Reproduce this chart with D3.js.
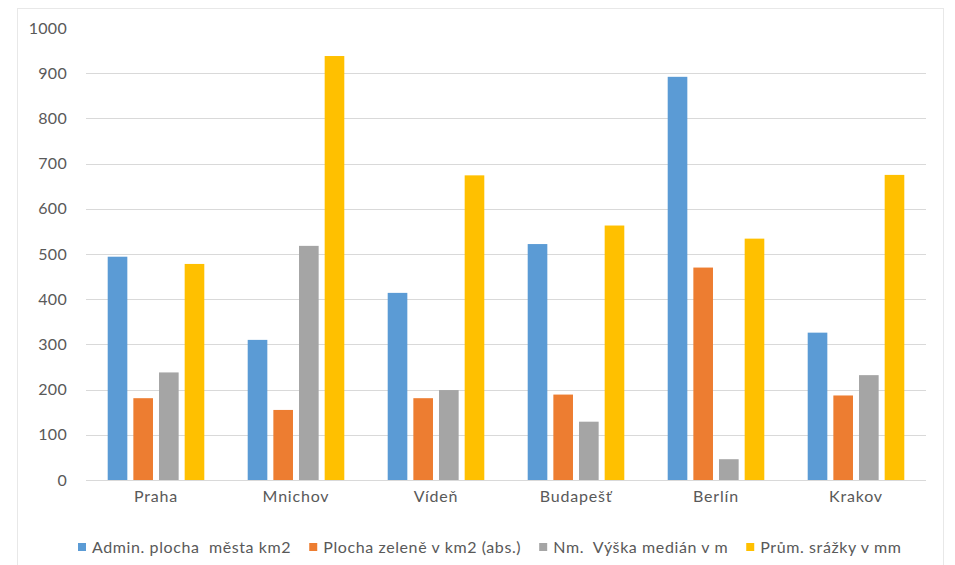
<!DOCTYPE html>
<html>
<head>
<meta charset="utf-8">
<script src="https://cdn.jsdelivr.net/npm/d3@7"></script>
<style>
  body { margin: 0; background: #fff; }
  svg text { font-family: Lato, "Open Sans", sans-serif; fill: #595959; white-space: pre; }
</style>
</head>
<body>
<svg id="chart" width="955" height="565"></svg>
<script>
"use strict";

// cities on the x axis
let cities = ["Praha", "Mnichov", "Vídeň", "Budapešť", "Berlín", "Krakov"];

let seriesNames = [
  "Admin. plocha  města km2",
  "Plocha zeleně v km2 (abs.)",
  "Nm.  Výška medián v m",
  "Prům. srážky v mm"
];
let seriesColors = ["#5B9BD5", "#ED7D31", "#A5A5A5", "#FFC000"];

// values per series, same order as cities
let adminArea = [494, 310, 414, 522, 892, 326];
let greenArea = [181, 155, 181, 189, 470, 187];
let medianHeight = [238, 518, 199, 129, 46, 232];
let rainfall = [478, 938, 674, 563, 534, 675];

let yTicks = [0, 100, 200, 300, 400, 500, 600, 700, 800, 900, 1000];

let allSeries = [adminArea, greenArea, medianHeight, rainfall];

let svg = d3.select("#chart");

// faint outer frame
svg.append("rect")
  .attr("x", 17.5).attr("y", 8.5)
  .attr("width", 926).attr("height", 560)
  .attr("fill", "none")
  .attr("stroke", "#e8e8e8");

let plotLeft = 86, plotRight = 926, plotTop = 28, plotBottom = 480;

let y = d3.scaleLinear().domain([0, 1000]).range([plotBottom, plotTop]);
let x0 = d3.scaleBand().domain(cities).range([plotLeft, plotRight])
  .paddingInner(0.31).paddingOuter(0.155);
let x1 = d3.scaleBand().domain(d3.range(seriesNames.length))
  .range([0, x0.bandwidth()]).paddingInner(0.235);

// gridlines
svg.append("g")
  .selectAll("line")
  .data(yTicks.filter(t => t < 1000))
  .enter()
  .append("line")
  .attr("x1", plotLeft).attr("x2", plotRight)
  .attr("y1", d => Math.round(y(d)) + 0.5)
  .attr("y2", d => Math.round(y(d)) + 0.5)
  .attr("stroke", "#d9d9d9");

// y axis labels
let yAxis = svg.append("g")
  .attr("transform", "translate(" + (plotLeft - 19) + ",0)")
  .call(d3.axisLeft(y).tickValues(yTicks).tickFormat(d3.format("d")).tickSize(0).tickPadding(0));
yAxis.select(".domain").remove();
yAxis.selectAll("text")
  .style("font-size", "16px")
  .style("letter-spacing", "0.3px")
  .attr("fill", "#595959");

// bars
let groups = svg.append("g")
  .selectAll("g")
  .data(cities)
  .enter()
  .append("g")
  .attr("transform", d => "translate(" + x0(d) + ",0)");

groups.selectAll("rect")
  .data((d, i) => allSeries.map((s, k) => ({ k: k, v: s[i] })))
  .enter()
  .append("rect")
  .attr("x", d => x1(d.k))
  .attr("width", x1.bandwidth())
  .attr("y", d => y(d.v))
  .attr("height", d => plotBottom - y(d.v))
  .attr("fill", d => seriesColors[d.k]);

// x axis labels
let xAxis = svg.append("g")
  .attr("transform", "translate(0," + plotBottom + ")")
  .call(d3.axisBottom(x0).tickSize(0).tickPadding(11));
xAxis.select(".domain").remove();
xAxis.selectAll("text")
  .style("font-size", "16px")
  .style("letter-spacing", "0.8px")
  .attr("fill", "#595959");

// legend
let legend = svg.append("g");
let lx = 78;
seriesNames.forEach((name, k) => {
  legend.append("rect")
    .attr("x", lx).attr("y", 543)
    .attr("width", 8).attr("height", 8)
    .attr("fill", seriesColors[k]);
  let t = legend.append("text")
    .attr("x", lx + 14).attr("y", 553)
    .style("font-size", "16px")
    .style("letter-spacing", "0.6px")
    .text(name);
  lx += 14 + t.node().getComputedTextLength() + 18;
});
</script>
</body>
</html>
